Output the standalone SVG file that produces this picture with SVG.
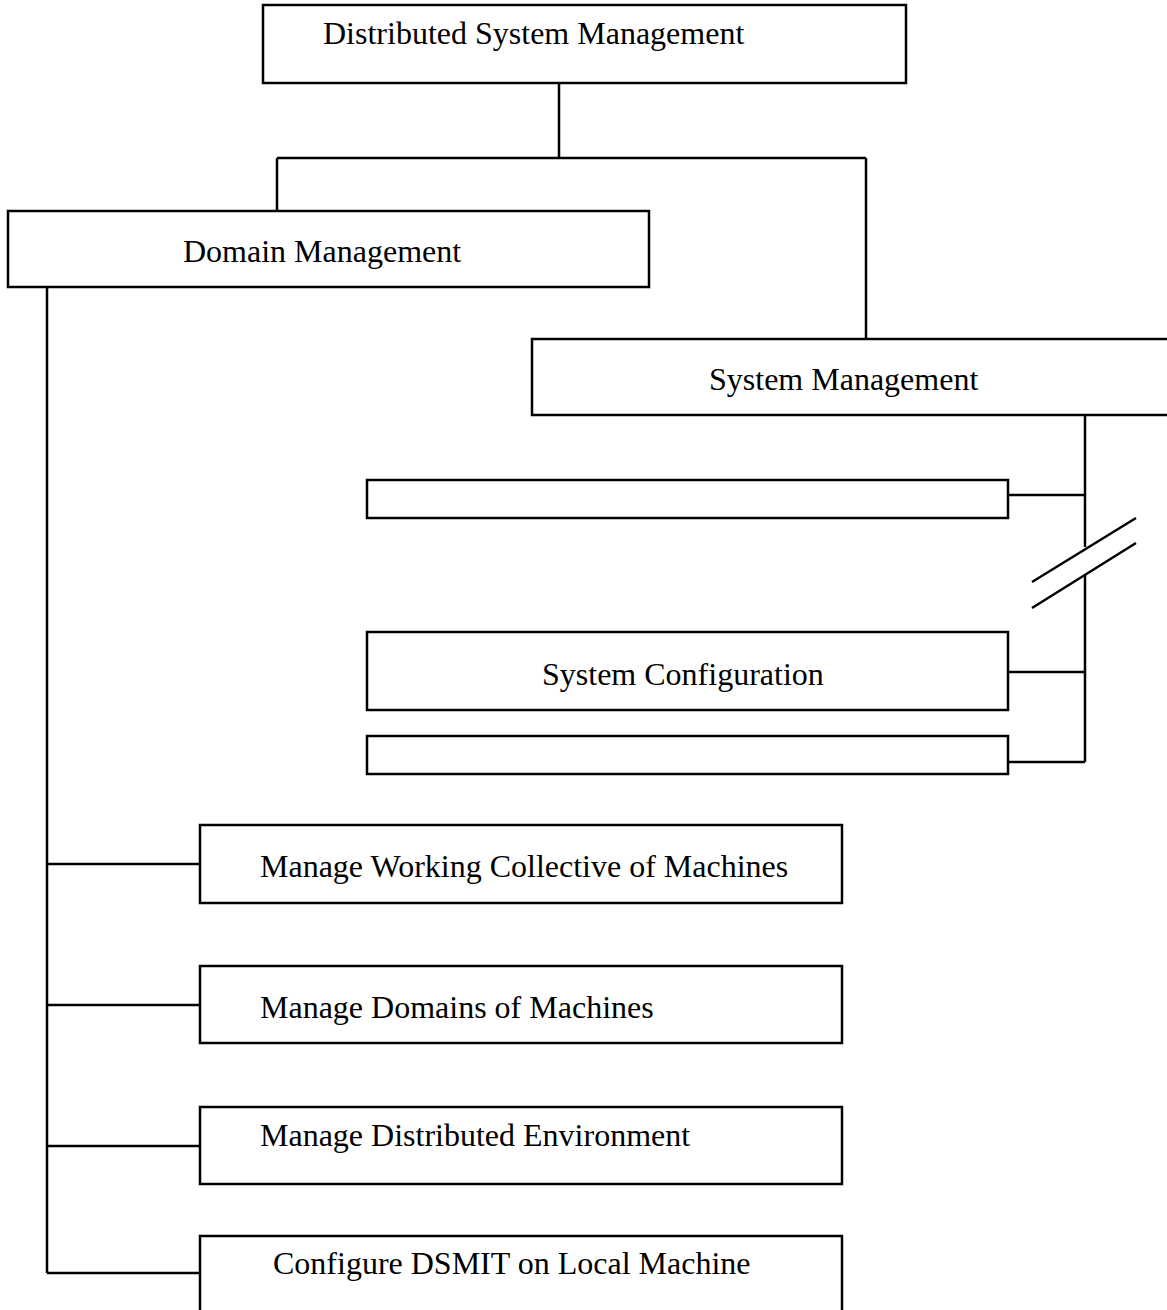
<svg xmlns="http://www.w3.org/2000/svg" width="1167" height="1310" viewBox="0 0 1167 1310">
<style>
.box{fill:#fff;stroke:#000;stroke-width:2.5}
.ln{fill:none;stroke:#000;stroke-width:2.5}
text{font-family:"Liberation Serif","Times New Roman",serif;font-size:32px;fill:#000}
</style>
<rect width="1167" height="1310" fill="#fff"/>
<g id="connectors">
<path class="ln" d="M559,83 V158 M277,158 H866 M277,158 V211 M866,158 V339"/>
<path class="ln" d="M1085,415 V547 M1085,575 V762 M1008,495 H1085 M1008,672 H1085 M1008,762 H1085"/>
<path class="ln" d="M1032,582 L1136,518 M1032,608 L1136,543"/>
<path class="ln" d="M47,287 V1273 M47,864 H200 M47,1005 H200 M47,1146 H200 M47,1273 H200"/>
</g>
<g id="n-dsm"><rect class="box" x="263" y="5" width="643" height="78"/><text x="323" y="44">Distributed System Management</text></g>
<g id="n-domain"><rect class="box" x="8" y="211" width="641" height="76"/><text x="183" y="262">Domain Management</text></g>
<g id="n-sysmgmt"><rect class="box" x="532" y="339" width="640" height="76"/><text x="709" y="390">System Management</text></g>
<g id="n-empty1"><rect class="box" x="367" y="480" width="641" height="38"/></g>
<g id="n-sysconf"><rect class="box" x="367" y="632" width="641" height="78"/><text x="542" y="685">System Configuration</text></g>
<g id="n-empty2"><rect class="box" x="367" y="736" width="641" height="38"/></g>
<g id="n-mwc"><rect class="box" x="200" y="825" width="642" height="78"/><text x="260" y="877">Manage Working Collective of Machines</text></g>
<g id="n-mdm"><rect class="box" x="200" y="966" width="642" height="77"/><text x="260" y="1018">Manage Domains of Machines</text></g>
<g id="n-mde"><rect class="box" x="200" y="1107" width="642" height="77"/><text x="260" y="1146">Manage Distributed Environment</text></g>
<g id="n-cfg"><rect class="box" x="200" y="1236" width="642" height="90"/><text x="273" y="1274">Configure DSMIT on Local Machine</text></g>
</svg>
